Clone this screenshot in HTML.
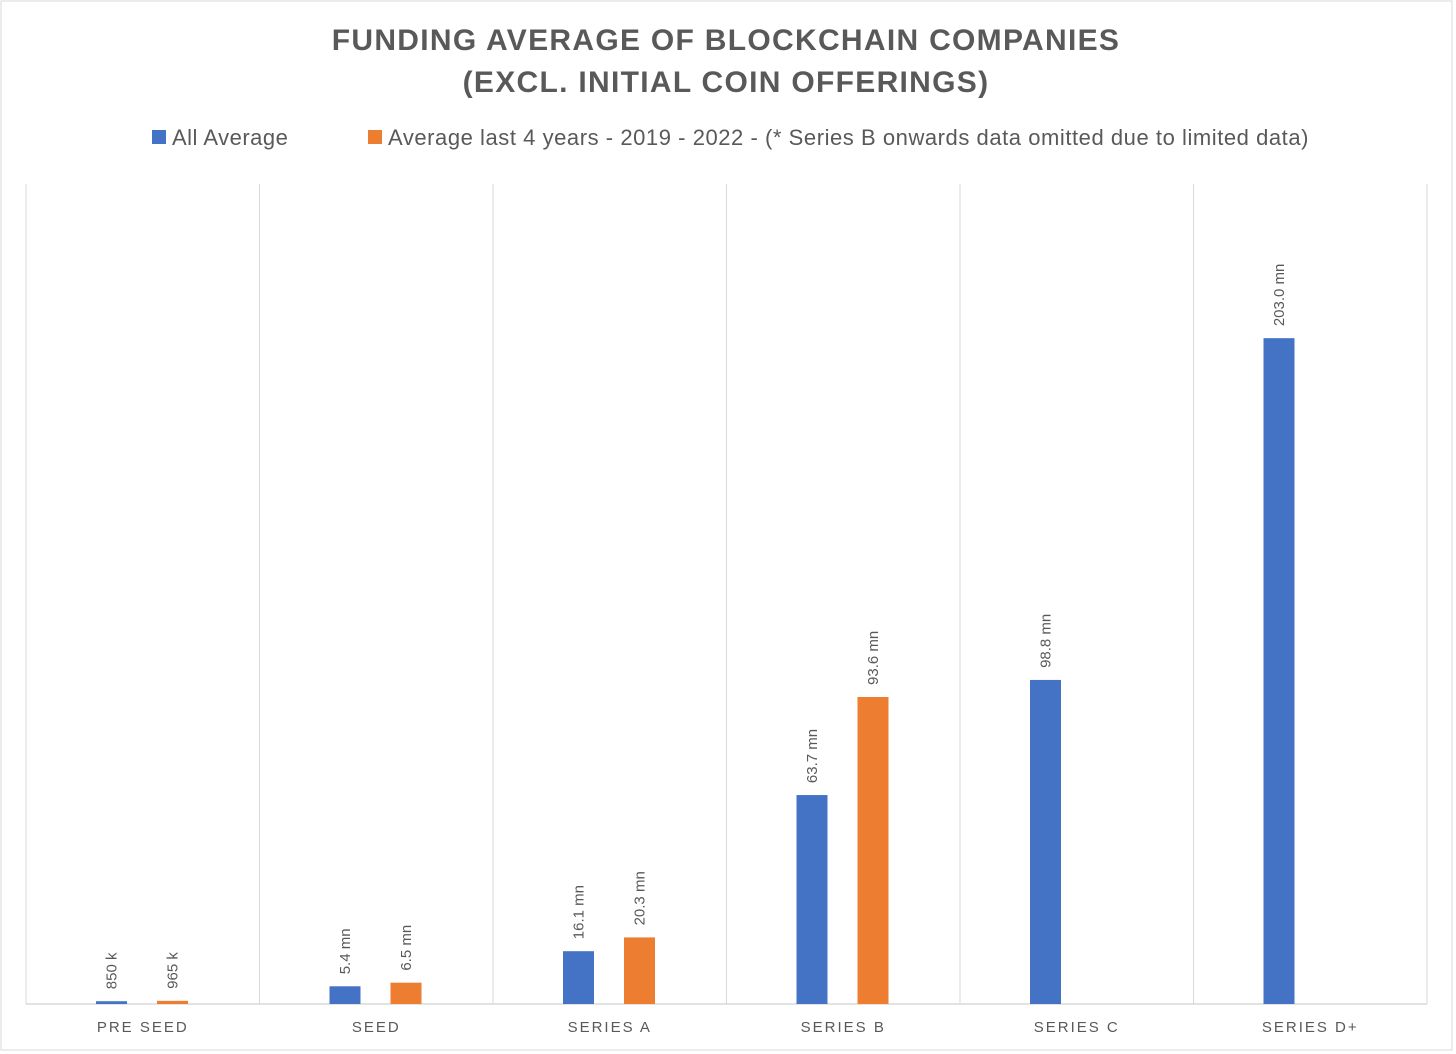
<!DOCTYPE html>
<html><head><meta charset="utf-8"><style>
body{margin:0;background:#fff;}
svg{display:block;font-family:"Liberation Sans",sans-serif;}
</style></head><body>
<svg width="1456" height="1054">
<rect x="1" y="1" width="1451" height="1049" fill="#fff" stroke="#d9d9d9"/>
<text x="726" y="50" text-anchor="middle" font-size="30" font-weight="bold" fill="#595959" letter-spacing="1.3">FUNDING AVERAGE OF BLOCKCHAIN COMPANIES</text>
<text x="726" y="92" text-anchor="middle" font-size="30" font-weight="bold" fill="#595959" letter-spacing="1.3">(EXCL. INITIAL COIN OFFERINGS)</text>
<g>
<rect x="152" y="130" width="14" height="14" fill="#4472c4"/>
<text x="172" y="145" font-size="22" fill="#595959" letter-spacing="0.5">All Average</text>
<rect x="368" y="130" width="14" height="14" fill="#ed7d31"/>
<text x="388" y="145" font-size="22" fill="#595959" letter-spacing="0.55">Average last 4 years - 2019 - 2022 - (* Series B onwards data omitted due to limited data)</text>
</g>
<g id="plot"></g>
</svg>
<script>
const categories=["PRE SEED","SEED","SERIES A","SERIES B","SERIES C","SERIES D+"];
const allAvg=[0.85,5.4,16.1,63.7,98.8,203.0];
const recentAvg=[0.965,6.5,20.3,93.6,null,null];
const allLabels=["850 k","5.4 mn","16.1 mn","63.7 mn","98.8 mn","203.0 mn"];
const recentLabels=["965 k","6.5 mn","20.3 mn","93.6 mn",null,null];
const yMax=250;
const NS="http://www.w3.org/2000/svg";
const g=document.getElementById('plot');
const L=26,R=1427,T=184,B=1004;
const cw=(R-L)/categories.length;
const y=v=>B-(v/yMax)*(B-T);
const xc=i=>L+i*cw;
function mk(tag,attrs){const e=document.createElementNS(NS,tag);for(const k in attrs)e.setAttribute(k,attrs[k]);g.appendChild(e);return e;}
for(let i=0;i<=categories.length;i++){
 const l=mk('line',{x1:xc(i),x2:xc(i),y1:T,y2:B,stroke:'#d9d9d9','stroke-width':1});
 
 
}
const ax=mk('line',{x1:L,x2:R,y1:B,y2:B,stroke:'#d9d9d9','stroke-width':1.5});


function bar(i,v,lab,off,color,name){
 if(v==null)return;
 const x=xc(i)+off,w=31,top=y(v);
 const r=mk('rect',{x:x,y:top,width:w,height:B-top,fill:color});
 
 
 const cx=x+w/2+5,cy=top-12;
 const t=mk('text',{x:cx,y:cy,'font-size':15,fill:'#595959',transform:`rotate(-90 ${cx} ${cy})`});
 t.textContent=lab;
 
 
}
categories.forEach((c,i)=>{
 bar(i,allAvg[i],allLabels[i],70,'#4472c4','bar-all-'+i);
 bar(i,recentAvg[i],recentLabels[i],131,'#ed7d31','bar-recent-'+i);
 const t=mk('text',{x:xc(i)+cw/2,y:1032,'text-anchor':'middle','font-size':15,fill:'#595959','letter-spacing':2});
 t.textContent=c;
 
 
});
</script>
</body></html>
